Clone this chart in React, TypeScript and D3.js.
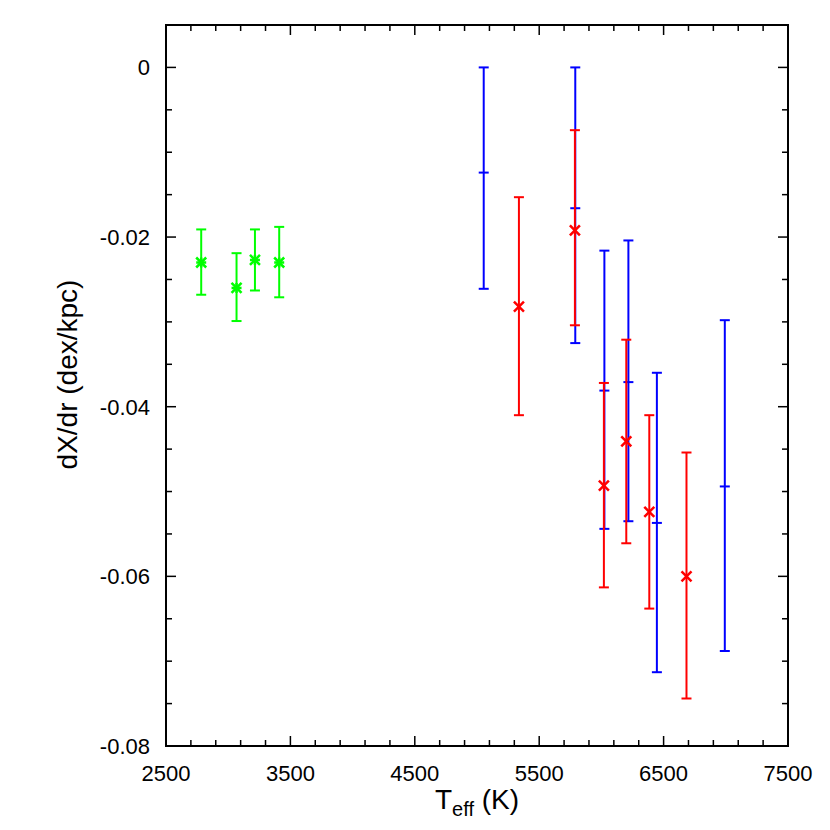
import * as d3 from "d3";

// blue series (no point marker, short tick at the value)
const blueT = [5054, 5790, 6024, 6217, 6446, 6992];
const blueY = [-0.0124, -0.0166, -0.0381, -0.0371, -0.0537, -0.0494];
const blueHi = [0.0, 0.0, -0.0216, -0.0204, -0.036, -0.0298];
const blueLo = [-0.0261, -0.0325, -0.0544, -0.0535, -0.0713, -0.0688];

// red series (x markers)
const redT = [5337, 5787, 6020, 6200, 6385, 6684];
const redY = [-0.0282, -0.0192, -0.0493, -0.0441, -0.0524, -0.06];
const redHi = [-0.0153, -0.0074, -0.0372, -0.0321, -0.041, -0.0454];
const redLo = [-0.041, -0.0304, -0.0613, -0.0561, -0.0638, -0.0744];

// green series (asterisk markers)
const greenT = [2783, 3067, 3215, 3410];
const greenY = [-0.023, -0.026, -0.0227, -0.023];
const greenHi = [-0.0191, -0.0219, -0.0191, -0.0188];
const greenLo = [-0.0268, -0.0299, -0.0263, -0.0271];

const xMajor = [2500, 3500, 4500, 5500, 6500, 7500];
const yMajor = [0, -0.02, -0.04, -0.06, -0.08];

const W = 830;
const H = 830;
const margin = { top: 25, right: 42, bottom: 84, left: 166 };
const font = "'Liberation Sans', Arial, Helvetica, sans-serif";

const x = d3.scaleLinear().domain([2500, 7500]).range([margin.left, W - margin.right]);
const y = d3.scaleLinear().domain([-0.08, 0.005]).range([H - margin.bottom, margin.top]);

const xMinor = d3.range(2500, 7501, 200);
const yMinor = d3.range(-0.08, 0.0051, 0.005);

const CAP = 5;
const MK = 5;

type Pt = { t: number; v: number; hi: number; lo: number };
const zip = (t: number[], v: number[], hi: number[], lo: number[]): Pt[] =>
  t.map((d, i) => ({ t: d, v: v[i], hi: hi[i], lo: lo[i] }));

const ErrBars = ({ pts, color, marker }: { pts: Pt[]; color: string; marker: "tick" | "x" | "star" }) => (
  <g stroke={color} strokeWidth={2} fill="none">
    {pts.map((d, i) => {
      const cx = x(d.t);
      const cy = y(d.v);
      return (
        <g key={i}>
          <line x1={cx} x2={cx} y1={y(d.hi)} y2={y(d.lo)} />
          <line x1={cx - CAP} x2={cx + CAP} y1={y(d.hi)} y2={y(d.hi)} />
          <line x1={cx - CAP} x2={cx + CAP} y1={y(d.lo)} y2={y(d.lo)} />
          {marker === "tick" && <line x1={cx - CAP} x2={cx + CAP} y1={cy} y2={cy} />}
          {marker !== "tick" && (
            <g strokeWidth={2.5}>
              <line x1={cx - MK} x2={cx + MK} y1={cy - MK} y2={cy + MK} />
              <line x1={cx - MK} x2={cx + MK} y1={cy + MK} y2={cy - MK} />
            </g>
          )}
          {marker === "star" && (
            <g strokeWidth={2.5}>
              <line x1={cx - MK} x2={cx + MK} y1={cy} y2={cy} />
              <line x1={cx} x2={cx} y1={cy - MK} y2={cy + MK} />
            </g>
          )}
        </g>
      );
    })}
  </g>
);

export default function App() {
  const x0 = margin.left;
  const x1 = W - margin.right;
  const y0 = H - margin.bottom;
  const y1 = margin.top;
  // plain hyphen, not the unicode minus d3 puts in
  const fmtY = (v: number) => (v === 0 ? "0" : d3.format(".2f")(v).replace("\u2212", "-"));

  return (
    <div style={{ position: "absolute", left: 0, top: 0 }}>
      <svg width={W} height={H} style={{ display: "block", background: "#fff" }}>
        {/* ticks, inward on all four sides */}
        <g stroke="#000" strokeWidth={1.5}>
          {xMinor.map((t) => {
            const big = xMajor.includes(t);
            const L = big ? 10 : 6;
            return (
              <g key={"x" + t}>
                <line x1={x(t)} x2={x(t)} y1={y0} y2={y0 - L} />
                <line x1={x(t)} x2={x(t)} y1={y1} y2={y1 + L} />
              </g>
            );
          })}
          {yMinor.map((v, i) => {
            const big = i % 4 === 0;
            const L = big ? 10 : 6;
            return (
              <g key={"y" + i}>
                <line x1={x0} x2={x0 + L} y1={y(v)} y2={y(v)} />
                <line x1={x1} x2={x1 - L} y1={y(v)} y2={y(v)} />
              </g>
            );
          })}
        </g>

        <ErrBars pts={zip(blueT, blueY, blueHi, blueLo)} color="#0000ff" marker="tick" />
        <ErrBars pts={zip(redT, redY, redHi, redLo)} color="#ff0000" marker="x" />
        <ErrBars pts={zip(greenT, greenY, greenHi, greenLo)} color="#00ff00" marker="star" />

        <rect x={x0} y={y1} width={x1 - x0} height={y0 - y1} fill="none" stroke="#000" strokeWidth={2} />

        {/* tick labels */}
        <g fontFamily={font} fontSize={22} fill="#000">
          {xMajor.map((t) => (
            <text key={t} x={x(t)} y={781} textAnchor="middle">
              {t}
            </text>
          ))}
          {yMajor.map((v) => (
            <text key={v} x={150} y={y(v) + 8} textAnchor="end">
              {fmtY(v)}
            </text>
          ))}
        </g>

        {/* axis titles */}
        <text x={(x0 + x1) / 2} y={809} textAnchor="middle" fontFamily={font} fontSize={28} fill="#000">
          T
          <tspan fontSize={20} dy={7}>eff</tspan>
          <tspan dy={-7}> (K)</tspan>
        </text>
        <text
          transform={`translate(77,${(y0 + y1) / 2 - 11}) rotate(-90)`}
          textAnchor="middle"
          fontFamily={font}
          fontSize={28}
          fill="#000"
        >
          dX/dr (dex/kpc)
        </text>
      </svg>
    </div>
  );
}
